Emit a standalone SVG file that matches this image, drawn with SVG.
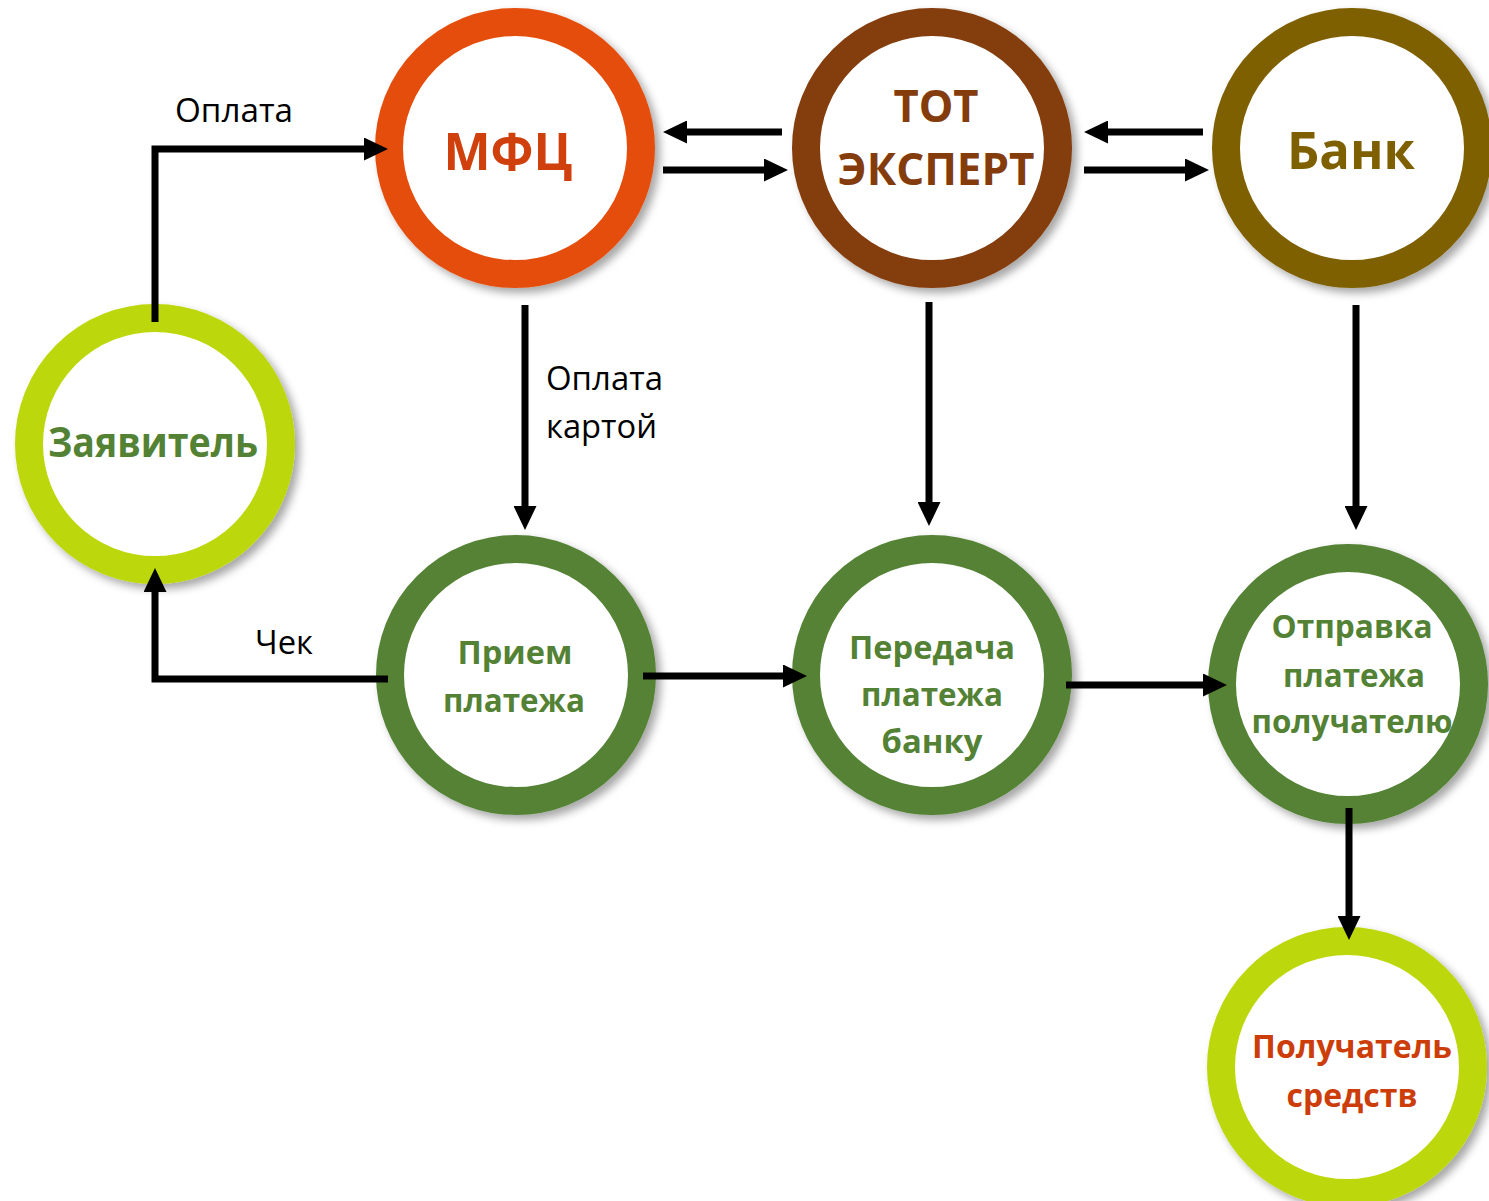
<svg xmlns="http://www.w3.org/2000/svg" width="1489" height="1201" viewBox="0 0 1489 1201">
<defs>
<filter id="sh" x="-20%" y="-20%" width="140%" height="140%">
<feDropShadow dx="5" dy="5" stdDeviation="4" flood-color="#000" flood-opacity="0.35"/>
</filter>
<marker id="ah" markerUnits="userSpaceOnUse" markerWidth="24" markerHeight="23" refX="12" refY="11.5" orient="auto">
<path d="M0,0 L24,11.5 L0,23 z" fill="#000"/>
</marker>
</defs>
<style>
.ring{fill:#fff;stroke-width:28;filter:url(#sh)}
.t{font-family:"Open Sans","Noto Sans","DejaVu Sans",sans-serif;font-weight:700;text-anchor:middle}
.lbl{font-family:"Open Sans","Noto Sans","DejaVu Sans",sans-serif;font-size:33px;fill:#000}
.c{fill:none;stroke:#000;stroke-width:7;marker-end:url(#ah)}
</style>
<rect width="1489" height="1201" fill="#fff"/>
<g id="mfc">
<circle class="ring" cx="515" cy="148" r="126" stroke="#E54E0C"/>
<text class="t" x="508" y="170" font-size="52" fill="#D0400C" textLength="129" lengthAdjust="spacingAndGlyphs">МФЦ</text>
</g>
<g id="tot">
<circle class="ring" cx="932" cy="148" r="126" stroke="#843C0C"/>
<text class="t" x="936" y="122" font-size="45" fill="#843C0C" textLength="85" lengthAdjust="spacingAndGlyphs">ТОТ</text>
<text class="t" x="936" y="185" font-size="45" fill="#843C0C" textLength="197" lengthAdjust="spacingAndGlyphs">ЭКСПЕРТ</text>
</g>
<g id="bank">
<circle class="ring" cx="1352" cy="148" r="126" stroke="#7F6000"/>
<text class="t" x="1351" y="169" font-size="52" fill="#7F6000" textLength="128" lengthAdjust="spacingAndGlyphs">Банк</text>
</g>
<g id="applicant">
<circle class="ring" cx="155" cy="444" r="126" stroke="#BDD708"/>
<text class="t" x="153" y="457" font-size="42" fill="#548235" textLength="210" lengthAdjust="spacingAndGlyphs">Заявитель</text>
</g>
<g id="receive">
<circle class="ring" cx="516" cy="675" r="126" stroke="#548235"/>
<text class="t" x="515" y="664" font-size="33" fill="#548235" textLength="115" lengthAdjust="spacingAndGlyphs">Прием</text>
<text class="t" x="514" y="712" font-size="33" fill="#548235" textLength="142" lengthAdjust="spacingAndGlyphs">платежа</text>
</g>
<g id="transfer">
<circle class="ring" cx="932" cy="675" r="126" stroke="#548235"/>
<text class="t" x="932" y="659" font-size="33" fill="#548235" textLength="166" lengthAdjust="spacingAndGlyphs">Передача</text>
<text class="t" x="932" y="706" font-size="33" fill="#548235" textLength="142" lengthAdjust="spacingAndGlyphs">платежа</text>
<text class="t" x="932" y="753" font-size="33" fill="#548235" textLength="101" lengthAdjust="spacingAndGlyphs">банку</text>
</g>
<g id="send">
<circle class="ring" cx="1348" cy="684" r="126" stroke="#548235"/>
<text class="t" x="1352" y="638" font-size="33" fill="#548235" textLength="161" lengthAdjust="spacingAndGlyphs">Отправка</text>
<text class="t" x="1354" y="687" font-size="33" fill="#548235" textLength="142" lengthAdjust="spacingAndGlyphs">платежа</text>
<text class="t" x="1352" y="733" font-size="33" fill="#548235" textLength="201" lengthAdjust="spacingAndGlyphs">получателю</text>
</g>
<g id="recipient">
<circle class="ring" cx="1347" cy="1067" r="126" stroke="#BDD708"/>
<text class="t" x="1352" y="1058" font-size="33" fill="#CC3D0A" textLength="200" lengthAdjust="spacingAndGlyphs">Получатель</text>
<text class="t" x="1352" y="1107" font-size="33" fill="#CC3D0A" textLength="131" lengthAdjust="spacingAndGlyphs">средств</text>
</g>
<g id="connectors">
<path class="c" d="M155,322 V149 H376"/>
<path class="c" d="M525,305 V518"/>
<path class="c" d="M388,679 H155 V580"/>
<path class="c" d="M782,132 H675"/>
<path class="c" d="M663,170 H776"/>
<path class="c" d="M1203,132 H1096"/>
<path class="c" d="M1084,170 H1197"/>
<path class="c" d="M929,302 V514"/>
<path class="c" d="M1356,305 V518"/>
<path class="c" d="M643,676 H795"/>
<path class="c" d="M1066,685 H1215"/>
<path class="c" d="M1349,808 V928"/>
</g>
<g id="labels">
<text class="lbl" x="175" y="122" textLength="118" lengthAdjust="spacingAndGlyphs">Оплата</text>
<text class="lbl" x="546" y="390" textLength="117" lengthAdjust="spacingAndGlyphs">Оплата</text>
<text class="lbl" x="546" y="438" textLength="111" lengthAdjust="spacingAndGlyphs">картой</text>
<text class="lbl" x="255" y="654" textLength="58" lengthAdjust="spacingAndGlyphs">Чек</text>
</g>
</svg>
